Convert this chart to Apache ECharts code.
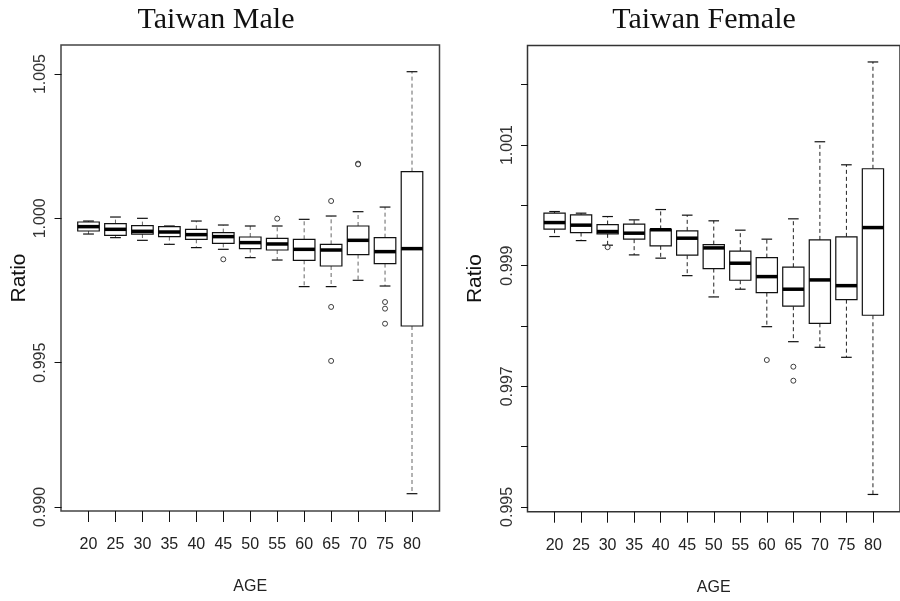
<!DOCTYPE html>
<html><head><meta charset="utf-8">
<script src="https://cdn.jsdelivr.net/npm/echarts@6/dist/echarts.min.js"></script>
<style>html,body{margin:0;padding:0;background:#fff}#c{width:900px;height:601px}</style>
</head><body><div id="c"></div>
<script>
// ---- data ----
const ages = ['20','25','30','35','40','45','50','55','60','65','70','75','80'];

const maleHigh = [0.999906,1.000045,1.000000,0.999734,0.999906,0.999768,0.999734,0.999734,0.999965,1.000080,1.000230,1.000390,1.005080];
const maleQ3   = [0.999872,0.999816,0.999747,0.999712,0.999619,0.999505,0.999353,0.999307,0.999273,0.999099,0.999734,0.999330,1.001618];
const maleMed  = [0.999712,0.999619,0.999550,0.999526,0.999435,0.999366,0.999158,0.999111,0.998926,0.998902,0.999238,0.998846,0.998950];
const maleQ1   = [0.999560,0.999411,0.999456,0.999366,0.999273,0.999134,0.998950,0.998902,0.998545,0.998348,0.998743,0.998431,0.996270];
const maleLow  = [0.999456,0.999331,0.999238,0.999099,0.998985,0.998926,0.998638,0.998555,0.997634,0.997634,0.997852,0.997655,0.990460];
const maleOutliers = [['45',0.99858],['55',0.99999],['65',1.00060],['65',0.99693],['65',0.99506],['70',1.001895],['70',1.00187],['75',0.99710],['75',0.99687],['75',0.99635]];

const femaleHigh = [0.999897,0.999870,0.999814,0.999759,0.999930,0.999837,0.999743,0.999588,0.999439,0.999776,1.001054,1.000672,1.002377];
const femaleQ3   = [0.999870,0.999842,0.999681,0.999688,0.999600,0.999577,0.999349,0.999240,0.999133,0.998974,0.999427,0.999477,1.000606];
const femaleMed  = [0.999714,0.999671,0.999565,0.999538,0.999595,0.999455,0.999294,0.999040,0.998818,0.998609,0.998763,0.998668,0.999631];
const femaleQ1   = [0.999605,0.999548,0.999527,0.999439,0.999328,0.999173,0.998951,0.998758,0.998552,0.998327,0.998044,0.998436,0.998177];
const femaleLow  = [0.999482,0.999415,0.999339,0.999178,0.999124,0.998834,0.998481,0.998609,0.997988,0.997739,0.997646,0.997480,0.995206];
const femaleOutliers = [['30',0.999306],['60',0.997435],['65',0.997324],['65',0.997092]];

const maleYTicks = [0.990,0.995,1.000,1.005];
const maleYLabels = [0.990,0.995,1.000,1.005];
const femaleYTicks = [0.995,0.996,0.997,0.998,0.999,1.000,1.001,1.002];
const femaleYLabels = [0.995,0.997,0.999,1.001];

// ---- build ----
const xPos = ages.map((a,i)=>i+1);
function boxRows(lo,q1,md,q3,hi){ return ages.map((a,i)=>[i+1,lo[i],q1[i],md[i],q3[i],hi[i]]); }
function outRows(list){ return list.map(o=>[ages.indexOf(o[0])+1,o[1]]); }

function makeRender(whiskerColor){
  return function(params, api){
    const x = api.value(0);
    const pLow = api.coord([x, api.value(1)]);
    const pQ1 = api.coord([x, api.value(2)]);
    const pMed = api.coord([x, api.value(3)]);
    const pQ3 = api.coord([x, api.value(4)]);
    const pHigh = api.coord([x, api.value(5)]);
    const w = api.size([0.8, 0])[0];
    const cx = pMed[0], half = w/2, st = w/4;
    return {type:'group', children:[
      {type:'line', shape:{x1:cx,y1:pQ3[1],x2:cx,y2:pHigh[1]}, style:{stroke:whiskerColor,lineWidth:1,lineDash:[4,3]}},
      {type:'line', shape:{x1:cx,y1:pQ1[1],x2:cx,y2:pLow[1]}, style:{stroke:whiskerColor,lineWidth:1,lineDash:[4,3]}},
      {type:'line', shape:{x1:cx-st,y1:pHigh[1],x2:cx+st,y2:pHigh[1]}, style:{stroke:'#111',lineWidth:1.2}},
      {type:'line', shape:{x1:cx-st,y1:pLow[1],x2:cx+st,y2:pLow[1]}, style:{stroke:'#111',lineWidth:1.2}},
      {type:'rect', shape:{x:cx-half,y:pQ3[1],width:w,height:pQ1[1]-pQ3[1]}, style:{fill:'#fff',stroke:'#111',lineWidth:1.2}},
      {type:'line', shape:{x1:cx-half,y1:pMed[1],x2:cx+half,y2:pMed[1]}, style:{stroke:'#000',lineWidth:3.5}}
    ]};
  };
}

const sans = "'Liberation Sans', Arial, sans-serif";
const narrow = "'Liberation Sans Narrow', 'Arial Narrow', 'Liberation Sans', sans-serif";

function xAxisFor(gi){
  return {
    gridIndex:gi, type:'value', min:-0.02, max:14.02,
    splitLine:{show:false}, axisLine:{show:false},
    axisTick:{show:true, length:11, customValues:xPos, lineStyle:{color:'#111',width:1}},
    axisLabel:{customValues:xPos, formatter:v=>ages[Math.round(v)-1], margin:26, fontSize:16, color:'#222', fontFamily:narrow},
    name:'AGE', nameLocation:'middle', nameGap:68,
    nameTextStyle:{fontSize:16, color:'#222', fontFamily:narrow}
  };
}
function yAxisFor(gi,min,max,ticks,labels,nameGap){
  return {
    gridIndex:gi, type:'value', min:min, max:max,
    splitLine:{show:false}, axisLine:{show:false},
    axisTick:{show:true, length:7, customValues:ticks, lineStyle:{color:'#111',width:1}},
    axisLabel:{customValues:labels, rotate:90, margin:12, formatter:v=>v.toFixed(3), fontSize:16, color:'#333', fontFamily:sans},
    name:'Ratio', nameLocation:'middle', nameGap:nameGap,
    nameTextStyle:{fontSize:21, color:'#111', fontFamily:sans}
  };
}

const chart = echarts.init(document.getElementById('c'), null, {renderer:'canvas'});
chart.setOption({
  animation:false,
  backgroundColor:'#fff',
  graphic:[
    {type:'text', x:216, y:5, style:{text:'Taiwan Male', fill:'#111', font:"30px 'Liberation Serif', 'Times New Roman', serif", textAlign:'center', textVerticalAlign:'top'}},
    {type:'text', x:704, y:5, style:{text:'Taiwan Female', fill:'#111', font:"30px 'Liberation Serif', 'Times New Roman', serif", textAlign:'center', textVerticalAlign:'top'}}
  ],
  grid:[
    {left:61, top:45, width:378.5, height:466, show:true, borderColor:'#444', borderWidth:1.5, backgroundColor:'transparent'},
    {left:527.5, top:45.5, width:381.5, height:466.2, show:true, borderColor:'#333', borderWidth:1.5, backgroundColor:'transparent'}
  ],
  xAxis:[xAxisFor(0), xAxisFor(1)],
  yAxis:[
    yAxisFor(0,0.98986,1.006005,maleYTicks,maleYLabels,31),
    yAxisFor(1,0.99492,1.00265,femaleYTicks,femaleYLabels,42)
  ],
  series:[
    {type:'custom', name:'Male', xAxisIndex:0, yAxisIndex:0, renderItem:makeRender('#666'),
     encode:{x:0, y:[1,2,3,4,5]}, data:boxRows(maleLow,maleQ1,maleMed,maleQ3,maleHigh), clip:false},
    {type:'scatter', xAxisIndex:0, yAxisIndex:0, symbol:'circle', symbolSize:5,
     itemStyle:{color:'#fff', borderColor:'#111', borderWidth:1}, data:outRows(maleOutliers)},
    {type:'custom', name:'Female', xAxisIndex:1, yAxisIndex:1, renderItem:makeRender('#222'),
     encode:{x:0, y:[1,2,3,4,5]}, data:boxRows(femaleLow,femaleQ1,femaleMed,femaleQ3,femaleHigh), clip:false},
    {type:'scatter', xAxisIndex:1, yAxisIndex:1, symbol:'circle', symbolSize:5,
     itemStyle:{color:'#fff', borderColor:'#111', borderWidth:1}, data:outRows(femaleOutliers)}
  ]
});
</script></body></html>
